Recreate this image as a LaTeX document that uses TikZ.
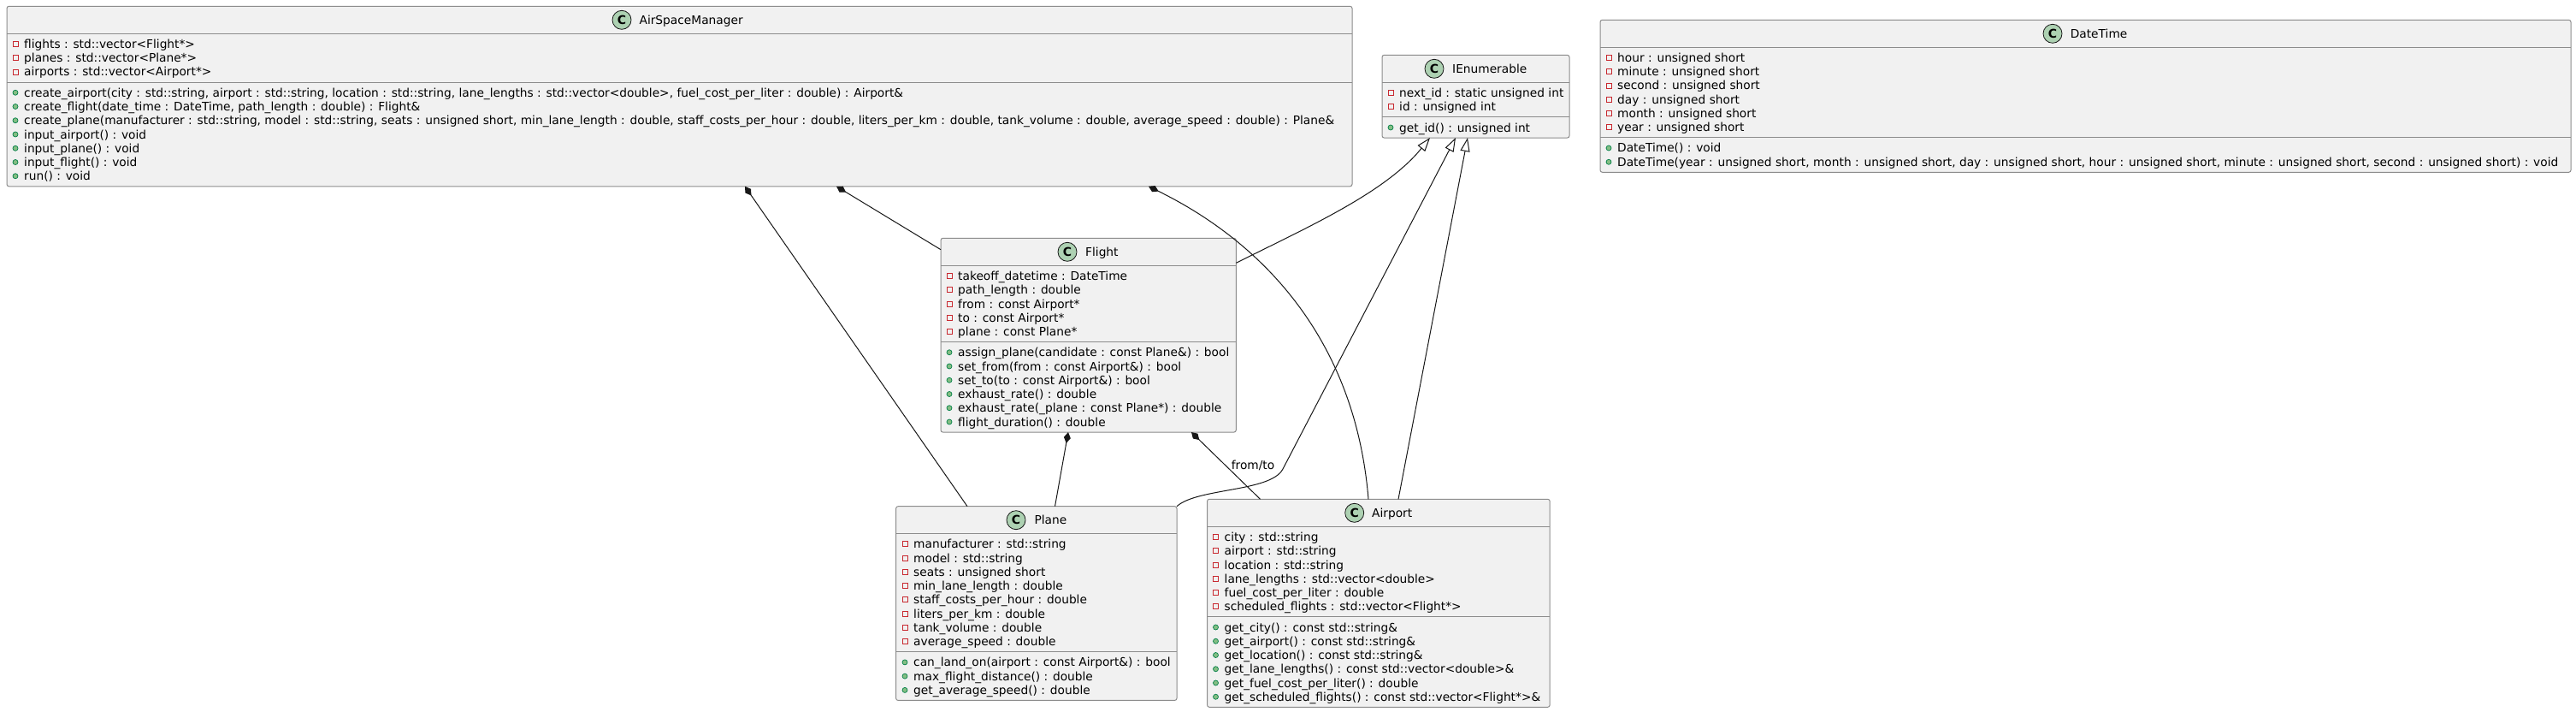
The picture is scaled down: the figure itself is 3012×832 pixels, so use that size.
\documentclass[tikz,border=0pt]{standalone}
\usepackage{fontspec}
\setmainfont{DejaVu Sans}
\usetikzlibrary{arrows.meta,calc,fit}
\definecolor{boxfill}{HTML}{F1F1F1}
\definecolor{boxline}{HTML}{8C8C8C}
\definecolor{edgecol}{HTML}{181818}
\definecolor{iconfill}{HTML}{ADD1B2}
\definecolor{privred}{HTML}{C82930}
\definecolor{pubfill}{HTML}{84BE84}
\definecolor{publine}{HTML}{038048}
\tikzset{
  x=1pt, y=-1pt,
  cbox/.style={draw=boxline, fill=boxfill, line width=1pt, rounded corners=2.5pt, inner sep=0pt, outer sep=0pt},
  sepline/.style={draw=boxline, line width=1pt},
  member/.style={anchor=base west, inner sep=0pt, font=\fontsize{13.75}{16}\selectfont},
  ctitle/.style={anchor=base west, inner sep=0pt, font=\fontsize{13.75}{16}\selectfont},
  cicon/.style={circle, draw=edgecol, fill=iconfill, line width=0.8pt, minimum size=22pt, inner sep=0pt, font=\fontsize{14}{14}\selectfont\bfseries},
  privicon/.style={draw=privred, line width=0.9pt},
  pubicon/.style={draw=publine, fill=pubfill, line width=0.7pt},
  edge/.style={draw=edgecol, line width=1pt},
  comp/.style={edge, {Diamond[length=13pt,width=8pt,fill=edgecol]}-},
  gen/.style={edge, -{Triangle[length=16pt,width=11pt,fill=white]}},
  elabel/.style={inner sep=0pt, font=\fontsize{13.75}{16}\selectfont}
}
\newcommand\mpriv[4]{\node[member] (#1) at (#2,#3+5) {#4};\draw[privicon] (#2-13,#3-3) rectangle (#2-7,#3+3);}
\newcommand\mpub[4]{\node[member] (#1) at (#2,#3+5) {#4};\draw[pubicon] (#2-10,#3) circle[radius=3];}
\newcommand\umlbox[7]{\node[cbox, fit={(#2,#3) (#4,#5)}] (#1) {};
  \draw[sepline] (#2,#6) -- (#4,#6);
  \draw[sepline] (#2,#7) -- (#4,#7);}
\newcommand\umltitle[5]{\node[cicon] (#1C) at (#2,#4) {C};\node[ctitle] (#1T) at (#3,#4+5) {#5};}
\begin{document}
\begin{tikzpicture}
\useasboundingbox (0,0) rectangle (3012,832);
\fill[white] (0,0) rectangle (3012,832);

% ---------------- AirSpaceManager
\umlbox{asm}{8}{7.3}{1581}{217.8}{39.3}{96.05}
\umltitle{asm}{727}{747.4}{23.3}{AirSpaceManager}
\mpriv{asm1}{28}{51.5}{flights : std::vector<Flight*>}
\mpriv{asm2}{28}{67.75}{planes : std::vector<Plane*>}
\mpriv{asm3}{28}{84.0}{airports : std::vector<Airport*>}
\mpub{asm4}{28}{108.25}{create\_airport(city : std::string, airport : std::string, location : std::string, lane\_lengths : std::vector<double>, fuel\_cost\_per\_liter : double) : Airport\&}
\mpub{asm5}{28}{124.5}{create\_flight(date\_time : DateTime, path\_length : double) : Flight\&}
\mpub{asm6}{28}{140.75}{create\_plane(manufacturer : std::string, model : std::string, seats : unsigned short, min\_lane\_length : double, staff\_costs\_per\_hour : double, liters\_per\_km : double, tank\_volume : double, average\_speed : double) : Plane\&}
\mpub{asm7}{28}{157.0}{input\_airport() : void}
\mpub{asm8}{28}{173.25}{input\_plane() : void}
\mpub{asm9}{28}{189.5}{input\_flight() : void}
\mpub{asm10}{28}{205.75}{run() : void}

% ---------------- IEnumerable
\umlbox{ienum}{1616}{64.3}{1835}{161.05}{96.3}{136.8}
\umltitle{ienum}{1677}{1698}{80.3}{IEnumerable}
\mpriv{ie1}{1636}{108.5}{next\_id : static unsigned int}
\mpriv{ie2}{1636}{124.75}{id : unsigned int}
\mpub{ie3}{1636}{149.0}{get\_id() : unsigned int}

% ---------------- DateTime
\umlbox{dt}{1871}{23.3}{3006}{201.3}{55.3}{160.8}
\umltitle{dt}{2400}{2420.6}{39.3}{DateTime}
\mpriv{dt1}{1891}{67.5}{hour : unsigned short}
\mpriv{dt2}{1891}{83.75}{minute : unsigned short}
\mpriv{dt3}{1891}{100.0}{second : unsigned short}
\mpriv{dt4}{1891}{116.25}{day : unsigned short}
\mpriv{dt5}{1891}{132.5}{month : unsigned short}
\mpriv{dt6}{1891}{148.75}{year : unsigned short}
\mpub{dt7}{1891}{173.0}{DateTime() : void}
\mpub{dt8}{1891}{189.25}{DateTime(year : unsigned short, month : unsigned short, day : unsigned short, hour : unsigned short, minute : unsigned short, second : unsigned short) : void}

% ---------------- Flight
\umlbox{flight}{1100}{278.3}{1445.3}{505.05}{310.3}{399.55}
\umltitle{flight}{1248}{1269}{294.3}{Flight}
\mpriv{fl1}{1120}{322.5}{takeoff\_datetime : DateTime}
\mpriv{fl2}{1120}{338.75}{path\_length : double}
\mpriv{fl3}{1120}{355.0}{from : const Airport*}
\mpriv{fl4}{1120}{371.25}{to : const Airport*}
\mpriv{fl5}{1120}{387.5}{plane : const Plane*}
\mpub{fl6}{1120}{411.75}{assign\_plane(candidate : const Plane\&) : bool}
\mpub{fl7}{1120}{428.0}{set\_from(from : const Airport\&) : bool}
\mpub{fl8}{1120}{444.25}{set\_to(to : const Airport\&) : bool}
\mpub{fl9}{1120}{460.5}{exhaust\_rate() : double}
\mpub{fl10}{1120}{476.75}{exhaust\_rate(\_plane : const Plane*) : double}
\mpub{fl11}{1120}{493.0}{flight\_duration() : double}

% ---------------- Plane
\umlbox{plane}{1047.6}{591.7}{1376}{818.45}{623.7}{761.7}
\umltitle{plane}{1188}{1209.4}{607.7}{Plane}
\mpriv{pl1}{1068}{635.9}{manufacturer : std::string}
\mpriv{pl2}{1068}{652.15}{model : std::string}
\mpriv{pl3}{1068}{668.4}{seats : unsigned short}
\mpriv{pl4}{1068}{684.65}{min\_lane\_length : double}
\mpriv{pl5}{1068}{700.9}{staff\_costs\_per\_hour : double}
\mpriv{pl6}{1068}{717.15}{liters\_per\_km : double}
\mpriv{pl7}{1068}{733.4}{tank\_volume : double}
\mpriv{pl8}{1068}{749.65}{average\_speed : double}
\mpub{pl9}{1068}{773.9}{can\_land\_on(airport : const Airport\&) : bool}
\mpub{pl10}{1068}{790.15}{max\_flight\_distance() : double}
\mpub{pl11}{1068}{806.4}{get\_average\_speed() : double}

% ---------------- Airport
\umlbox{airport}{1411.5}{583.3}{1812.2}{826.3}{615.3}{720.8}
\umltitle{airport}{1583.7}{1604}{599.3}{Airport}
\mpriv{ap1}{1431.5}{627.5}{city : std::string}
\mpriv{ap2}{1431.5}{643.75}{airport : std::string}
\mpriv{ap3}{1431.5}{660.0}{location : std::string}
\mpriv{ap4}{1431.5}{676.25}{lane\_lengths : std::vector<double>}
\mpriv{ap5}{1431.5}{692.5}{fuel\_cost\_per\_liter : double}
\mpriv{ap6}{1431.5}{708.75}{scheduled\_flights : std::vector<Flight*>}
\mpub{ap7}{1431.5}{733.0}{get\_city() : const std::string\&}
\mpub{ap8}{1431.5}{749.25}{get\_airport() : const std::string\&}
\mpub{ap9}{1431.5}{765.5}{get\_location() : const std::string\&}
\mpub{ap10}{1431.5}{781.75}{get\_lane\_lengths() : const std::vector<double>\&}
\mpub{ap11}{1431.5}{798.0}{get\_fuel\_cost\_per\_liter() : double}
\mpub{ap12}{1431.5}{814.25}{get\_scheduled\_flights() : const std::vector<Flight*>\&}

% ---------------- connector end points
\coordinate (asmA) at (871,217.8);
\coordinate (asmB) at (978,217.8);
\coordinate (asmC) at (1343,217.8);
\coordinate (planeA) at (1131,591.7);
\coordinate (planeB) at (1233.5,591.7);
\coordinate (planeC) at (1376,591.7);
\coordinate (flightA) at (1100,291.7);
\coordinate (flightB) at (1249,505.05);
\coordinate (flightC) at (1393,505.05);
\coordinate (flightD) at (1445.3,307.3);
\coordinate (airportA) at (1473.5,583.3);
\coordinate (airportB) at (1600,583.3);
\coordinate (airportC) at (1635,583.3);
\coordinate (ienumA) at (1672,161.05);
\coordinate (ienumB) at (1702,161.05);
\coordinate (ienumC) at (1716,161.05);

% compositions
\draw[comp] (asmA) -- (planeA);
\draw[comp] (asmB) -- (flightA);
\draw[comp] (asmC) .. controls (1480,285) and (1585,400) .. (airportB);
\draw[comp] (flightB) -- (planeB);
\draw[comp] (flightC) -- (airportA);
\node[elabel] (fromto) at (1465,544) {from/to};

% generalizations
\draw[gen] (flightD) .. controls (1530,265) and (1620,225) .. (ienumA);
\draw[gen] (planeC) .. controls (1400,570) and (1486,575) .. (1500,548) -- (ienumB);
\draw[gen] (airportC) -- (ienumC);
\end{tikzpicture}
\end{document}
